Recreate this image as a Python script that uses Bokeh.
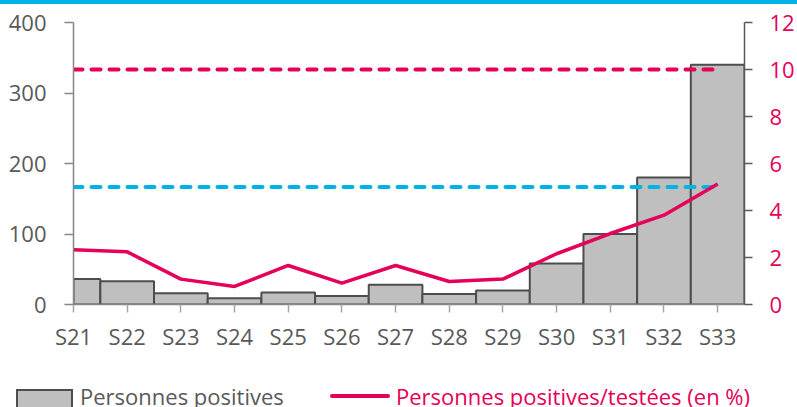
from bokeh.plotting import figure
from bokeh.layouts import column
from bokeh.models import Range1d, LinearAxis, FixedTicker, ColumnDataSource, Div
from bokeh.embed import file_html
from bokeh.resources import INLINE

weeks = ["S21", "S22", "S23", "S24", "S25", "S26", "S27", "S28", "S29", "S30", "S31", "S32", "S33"]
positives = [36, 33, 16, 9, 17, 12, 28, 15, 20, 58, 100, 180, 340]
pct_positive = [2.33, 2.24, 1.08, 0.77, 1.66, 0.91, 1.66, 0.98, 1.08, 2.16, 3.02, 3.80, 5.13]
threshold_alert = 10
threshold_watch = 5
left_ticks = [0, 100, 200, 300, 400]
right_ticks = [0, 2, 4, 6, 8, 10, 12]
legend_labels = ["Personnes positives", "Personnes positives/testées (en %)"]

GRAY_TXT = "#595959"
RED = "#e5005a"
BLUE = "#00b2e6"
FONT = "Open Sans"
FS = "22px"
W = 797

# --- top banner ---
banner = Div(text=f'<div style="width:{W}px;height:4px;background:{BLUE};"></div>',
             width=W, height=4, margin=0,
             styles={"background-color": BLUE, "overflow": "hidden", "padding": "0", "margin": "0"})

# --- main chart ---
xs = list(range(len(weeks)))
src = ColumnDataSource(dict(x=xs, pos=positives, pct=pct_positive))

p = figure(width=W, height=352, x_range=Range1d(0, len(weeks) - 0.5),
           y_range=Range1d(0, 400), output_backend="svg", toolbar_location=None, tools="",
           min_border_left=73, min_border_right=52, min_border_top=18, min_border_bottom=52)
p.extra_y_ranges = {"pct": Range1d(0, 12)}
p.outline_line_color = None
p.xgrid.visible = False
p.ygrid.visible = False

bars = p.vbar(x="x", top="pos", width=1.0, bottom=0, source=src,
              fill_color="#bfbfbf", line_color="#4d4d4d", line_width=2)

p.line([xs[0], xs[-1]], [threshold_alert] * 2, y_range_name="pct", line_color=RED,
       line_width=4, line_dash="9 9", line_cap="round")
p.line([xs[0], xs[-1]], [threshold_watch] * 2, y_range_name="pct", line_color=BLUE,
       line_width=4, line_dash="9 9", line_cap="round")

ln = p.line("x", "pct", source=src, y_range_name="pct", line_color=RED, line_width=3.5)

ya = p.yaxis[0]
ya.ticker = FixedTicker(ticks=left_ticks)
ya.axis_line_color = "#868686"
ya.axis_line_width = 1.5
ya.major_tick_line_color = "#868686"
ya.major_tick_line_width = 1.5
ya.major_tick_out = 9
ya.major_tick_in = 0
ya.minor_tick_line_color = None
ya.major_label_text_color = GRAY_TXT
ya.major_label_text_font = FONT
ya.major_label_text_font_size = FS
ya.major_label_standoff = 18

xa = p.xaxis[0]
xa.ticker = FixedTicker(ticks=xs)
xa.major_label_overrides = {i: w for i, w in zip(xs, weeks)}
xa.axis_line_color = "#868686"
xa.axis_line_width = 1.5
xa.major_tick_line_color = "#a6a6a6"
xa.major_tick_line_width = 1.5
xa.major_tick_out = 8
xa.major_tick_in = 0
xa.minor_tick_line_color = None
xa.major_label_text_color = GRAY_TXT
xa.major_label_text_font = FONT
xa.major_label_text_font_size = FS
xa.major_label_standoff = 8

ra = LinearAxis(y_range_name="pct", ticker=FixedTicker(ticks=right_ticks))
ra.axis_line_color = "#595959"
ra.axis_line_width = 1.5
ra.major_tick_line_color = "#595959"
ra.major_tick_line_width = 1.5
ra.major_tick_out = 8
ra.major_tick_in = 0
ra.minor_tick_line_color = None
ra.major_label_text_color = RED
ra.major_label_text_font = FONT
ra.major_label_text_font_size = FS
ra.major_label_standoff = 17
p.add_layout(ra, "right")

# --- legend strip (page y 356..407) ---
txt_style = ("position:absolute;top:29px;white-space:nowrap;line-height:22px;"
             "font-family:'Open Sans';font-size:22px;")
legend_html = (
    '<div style="position:relative;width:797px;height:51px;overflow:hidden;margin:0;padding:0;">'
    '<div style="position:absolute;left:16px;top:33px;width:57px;height:24px;box-sizing:border-box;'
    'background:#bfbfbf;border:2px solid #4d4d4d;"></div>'
    f'<span style="{txt_style}left:80px;color:{GRAY_TXT};">{legend_labels[0]}</span>'
    f'<div style="position:absolute;left:330px;top:38px;width:60px;height:4px;'
    f'border-radius:2px;background:{RED};"></div>'
    f'<span style="{txt_style}left:396px;color:{RED};">{legend_labels[1]}</span>'
    '</div>'
)
lg = Div(text=legend_html, width=W, height=51, margin=0,
         styles={"overflow": "hidden", "padding": "0", "margin": "0"})

layout = column(banner, p, lg, spacing=0)
open("out.html", "w").write(file_html(layout, INLINE))
